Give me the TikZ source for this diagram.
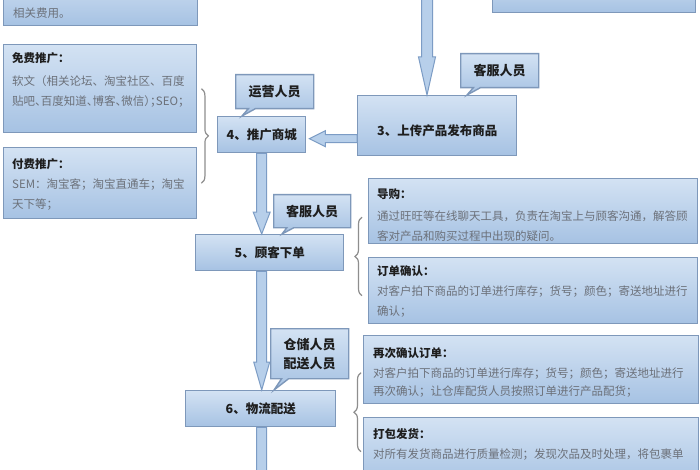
\documentclass[tikz,border=0pt]{standalone}
\usepackage{fontspec}
\newfontfamily\cjk{Noto Sans CJK SC}
\newfontfamily\cjkhalt[RawFeature=+halt]{Noto Sans CJK SC}
\usetikzlibrary{calc,shapes.callouts,decorations.pathreplacing}
\definecolor{boxtop}{HTML}{D3E2F3}
\definecolor{boxbot}{HTML}{A6C2E3}
\definecolor{boxline}{HTML}{7E98BA}
\definecolor{arrowfill}{HTML}{B7CFEA}
\definecolor{arrowline}{HTML}{7C9CC5}
\definecolor{bodygray}{HTML}{6B7079}
\definecolor{titleblack}{HTML}{1E1E1E}
\definecolor{bracegray}{HTML}{8E8E8E}
\tikzset{
 box/.style={draw=boxline, line width=1.4pt, top color=boxtop, bottom color=boxbot, anchor=north west, inner sep=0pt, font=\cjk\bfseries\fontsize{12.5}{15}\selectfont, text=titleblack},
 callbox/.style={box, rectangle callout, callout pointer width=7pt, font=\cjk\bfseries\fontsize{13}{19}\selectfont, align=center},
 bodytext/.style={anchor=north west, inner sep=0pt, align=left, text=bodygray, font=\cjk\fontsize{11.5}{20}\selectfont},
 blockarrow/.style={draw=arrowline, fill=arrowfill, line width=1pt, line join=miter},
 bracestyle/.style={draw=bracegray, line width=1.2pt, decorate, decoration={brace, amplitude=7pt}},
}
\newcommand\ttl[1]{{\color{titleblack}\bfseries #1}}
% #1 start, #2 end, #3 head length, #4 half shaft, #5 half head
\newcommand\vblockarrow[5]{%
 \path[blockarrow] let \p1=(#1), \p2=(#2) in
 (\x1-#4pt,\y1) -- (\x1-#4pt,\y2+#3pt) -- (\x1-#5pt,\y2+#3pt) -- (\x1,\y2) --
 (\x1+#5pt,\y2+#3pt) -- (\x1+#4pt,\y2+#3pt) -- (\x1+#4pt,\y1) -- cycle;}
\newcommand\hblockarrow[5]{%
 \path[blockarrow] let \p1=(#1), \p2=(#2) in
 (\x1,\y1-#4pt) -- (\x2+#3pt,\y1-#4pt) -- (\x2+#3pt,\y1-#5pt) -- (\x2,\y1) --
 (\x2+#3pt,\y1+#5pt) -- (\x2+#3pt,\y1+#4pt) -- (\x1,\y1+#4pt) -- cycle;}
\begin{document}
\begin{tikzpicture}[x=1pt,y=-1pt]
\clip (0,0) rectangle (700,470);
\fill[white] (0,0) rectangle (700,470);

% top partial boxes
\node[box, minimum width=194, minimum height=55] (topL) at (3,-30) {};
\node[bodytext] (topLtxt) at ($(topL.north west)+(10,38)$) {相关费用。};
\node[box, minimum width=203, minimum height=42] (topR) at (492,-30) {};

% step boxes
\node[box, minimum width=159, minimum height=60, text height=20pt, text depth=0pt] (b3) at (357,95) {3、上传产品发布商品};
\node[box, minimum width=88, minimum height=36] (b4) at (217,116) {4、推广商城};
\node[box, minimum width=148, minimum height=36] (b5) at (195,234) {5、顾客下单};
\node[box, minimum width=150, minimum height=36] (b6) at (185,390) {6、物流配送};

% callouts
\node[callbox, minimum width=78, minimum height=34, callout absolute pointer={($(b3.north west)+(110,0)$)}] (cs1) at (460,53) {客服人员};
\node[callbox, minimum width=78, minimum height=34, callout absolute pointer={($(b4.north west)+(25,0)$)}] (cy) at (235,74) {运营人员};
\node[callbox, minimum width=77, minimum height=33, callout absolute pointer={($(b5.north west)+(87,0)$)}] (cs2) at (273,194) {客服人员};
\node[callbox, minimum width=78, minimum height=50, callout absolute pointer={($(b6.north west)+(89,0)$)}] (cc) at (270,328) {仓储人员\\配送人员};

% detail boxes
\node[box, minimum width=193, minimum height=88] (free) at (3,44) {};
\node[bodytext] (freetxt) at ($(free.north west)+(9,8)$) {\ttl{免费推广：}\\[3pt]软文（相关论坛、淘宝社区、百度\\{\cjkhalt 贴吧、百度知道、博客、微信）；SEO；}};
\node[box, minimum width=193, minimum height=71] (paid) at (3,147) {};
\node[bodytext] (paidtxt) at ($(paid.north west)+(9,11)$) {\ttl{付费推广：}\\SEM：淘宝客；淘宝直通车；淘宝\\天下等；};

\node[box, minimum width=329, minimum height=65] (dg) at (368,178) {};
\node[bodytext] (dgtxt) at ($(dg.north west)+(9,10)$) {\ttl{导购：}\\[2pt]通过旺旺等在线聊天工具，负责在淘宝上与顾客沟通，解答顾\\客对产品和购买过程中出现的疑问。};
\node[box, minimum width=329, minimum height=66] (qr) at (368,257) {};
\node[bodytext] (qrtxt) at ($(qr.north west)+(9,8)$) {\ttl{订单确认：}\\对客户拍下商品的订单进行库存；货号；颜色；寄送地址进行\\确认；};

\node[box, minimum width=335, minimum height=68] (zc) at (363,335) {};
\node[bodytext] (zctxt) at ($(zc.north west)+(10,12)$) {\ttl{再次确认订单：}\\对客户拍下商品的订单进行库存；货号；颜色；寄送地址进行\\[-2pt]再次确认；让仓库配货人员按照订单进行产品配货；};
\node[box, minimum width=335, minimum height=70] (db) at (363,417) {};
\node[bodytext] (dbtxt) at ($(db.north west)+(10,11)$) {\ttl{打包发货：}\\对所有发货商品进行质量检测；发现次品及时处理，将包裹单};

% braces
\draw[bracestyle] ($(free.east)+(4,0)$) -- ($(paid.east)+(4,0)$);
\draw[bracestyle] ($(qr.west)+(-6,5)$) -- ($(dg.west)+(-6,6)$);
\draw[bracestyle] ($(db.west)+(-2,-1)$) -- ($(zc.west)+(-2,3)$);

% arrows
\coordinate (topstart) at (427,-10);
\coordinate (botend) at (261,520);
\vblockarrow{topstart}{topstart |- b3.north}{38}{5.5}{8.5}
\hblockarrow{$(b3.west |- b4.east)+(0,4)$}{$(b4.east)+(3,4)$}{16}{4}{8}
\vblockarrow{b4.south}{b4.south |- b5.north}{22}{5}{8.5}
\vblockarrow{b4.south |- b5.south}{b4.south |- b6.north}{28}{5}{8}
\vblockarrow{b4.south |- b6.south}{botend}{28}{5}{8}
\end{tikzpicture}
\end{document}
